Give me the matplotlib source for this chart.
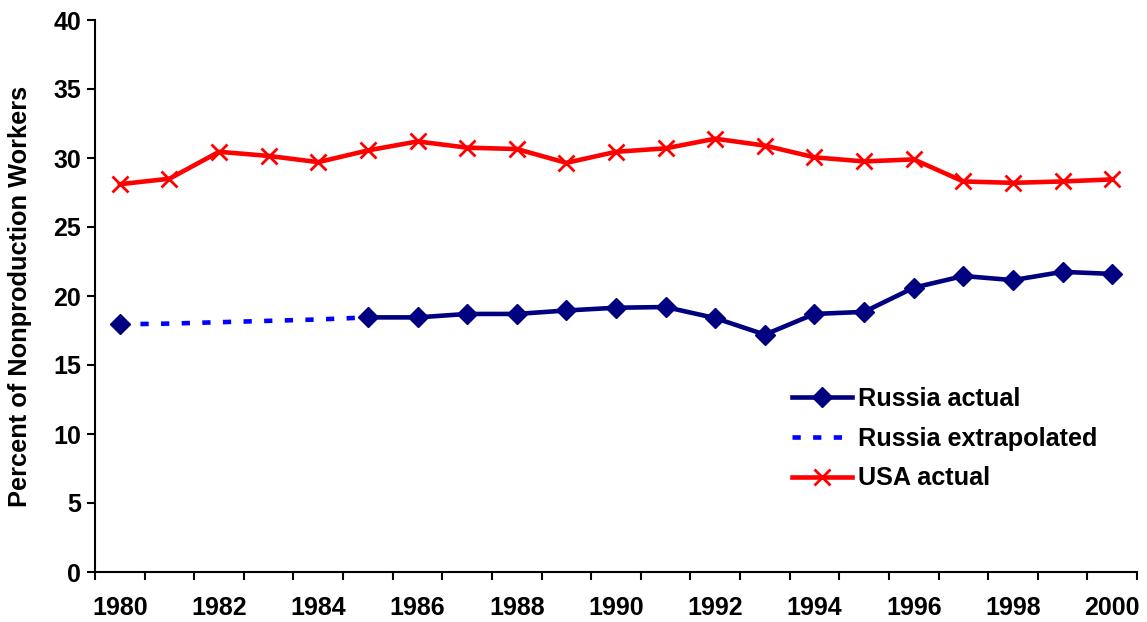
import numpy as np
import matplotlib
matplotlib.use("Agg")
from matplotlib import pyplot as plt
from matplotlib.ticker import FixedLocator

years = list(range(1980, 2001))

#Russia actual: 1980 then 1985 onwards (gap where extrapolated)
russiaActual = [17.95, np.nan, np.nan, np.nan, np.nan, 18.45, 18.45, 18.7, 18.7, 18.95,
                19.15, 19.2, 18.4, 17.2, 18.7, 18.85, 20.6, 21.45, 21.15, 21.75, 21.6]
#Russia extrapolated 1980-1985
russiaExtrap = [17.95, 18.0, 18.1, 18.2, 18.3, 18.45] + [np.nan] * 15
usaActual = [28.1, 28.5, 30.45, 30.15, 29.7, 30.55, 31.2, 30.75, 30.65, 29.65,
             30.45, 30.7, 31.4, 30.9, 30.05, 29.75, 29.9, 28.3, 28.2, 28.3, 28.45]

labels = ["Russia actual", "Russia extrapolated", "USA actual"]
yLabel = "Percent of Nonproduction Workers"

plt.rcParams['font.family'] = ['Liberation Sans', 'DejaVu Sans']
plt.rcParams['font.weight'] = 'bold'

fig = plt.figure(figsize=(11.47, 6.22), dpi=100)
ax = fig.add_axes([95/1147, 1 - 572/622, (1137 - 95)/1147, 552/622])

x = np.arange(len(years))
ax.plot(x, russiaActual, color='#000080', lw=3.3, marker='D', ms=10, label=labels[0], zorder=3)
ax.plot(x, russiaExtrap, color='#0000FF', lw=3.3, ls=(0, (1.8, 2.7)), label=labels[1], zorder=2)
ax.plot(x, usaActual, color='#FF0000', lw=3.3, marker='x', ms=12, mew=2, label=labels[2], zorder=3)

ax.set_xlim(-0.5, len(years) - 0.5)
ax.set_ylim(0, 40)
ax.set_yticks(np.arange(0, 41, 5))

#labels every other year, tick marks between categories
ax.set_xticks(x[::2])
ax.set_xticklabels([str(y) for y in years[::2]])
ax.xaxis.set_minor_locator(FixedLocator(np.arange(-0.5, len(years), 1)))
ax.tick_params(axis='x', which='major', length=0, pad=17, labelsize=18)
ax.tick_params(axis='x', which='minor', length=6, width=1.5, direction='out')
ax.tick_params(axis='y', length=6, width=1.5, pad=4, labelsize=18)

for s in ['top', 'right']:
    ax.spines[s].set_visible(False)
for s in ['left', 'bottom']:
    ax.spines[s].set_linewidth(1.5)

ax.set_ylabel(yLabel, fontsize=18.3, fontweight='bold')
ax.yaxis.set_label_coords(-0.060, 0.499)

ax.legend(loc='upper left', bbox_to_anchor=(0.669, 0.335), frameon=False,
          fontsize=18.2, handlelength=2.35, handletextpad=0.25, labelspacing=0.62,
          borderaxespad=0, borderpad=0)

fig.savefig("out.png", dpi=100)
